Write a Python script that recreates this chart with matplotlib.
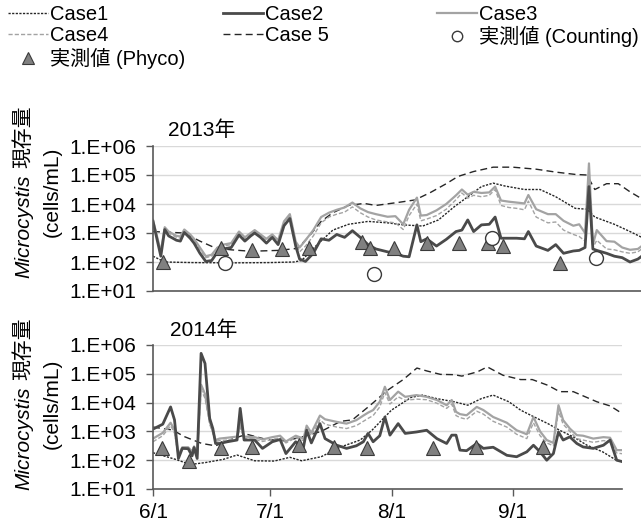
import numpy as np
import matplotlib
matplotlib.use('Agg')
import matplotlib.pyplot as plt
from matplotlib.lines import Line2D

plt.rcParams['font.family'] = ['Liberation Sans', 'Noto Sans CJK JP']
FS = 15
FS_LEG = 14.5

# days counted from 6/1, values are log10(cells/mL)
month_days = [0, 30, 61, 92]
month_labels = ['6/1', '7/1', '8/1', '9/1']
ytick_labels = ['1.E+01', '1.E+02', '1.E+03', '1.E+04', '1.E+05', '1.E+06']

# ---- 2013 ----
d13 = [0, 2, 3, 4, 6, 7, 8, 9.5, 10.5, 12, 13.5, 15, 16.5, 18, 20, 22, 23.5, 25, 26, 27.5,
       29, 30.5, 32, 33.5, 35, 36.5, 37.5, 39, 41, 43, 45, 47, 49, 51, 53, 55, 57, 60, 62, 64,
       65.5, 67.5, 68.5, 70, 72.5, 75, 77.5, 79, 80.5, 82, 84, 86, 87.5, 89, 91, 93, 95, 96, 98, 101,
       103, 105, 107.5, 109, 110.5, 111.5, 112.5, 113.5, 116, 118, 120, 122, 124, 125]
case2_13 = [3.4, 2.2, 3.12, 2.9, 2.75, 2.72, 3.02, 2.82, 2.65, 2.3,
            2.02, 2.05, 2.35, 2.45, 2.5, 2.93, 2.72, 2.9, 3.0, 2.85,
            2.65, 2.85, 2.6, 3.25, 3.5, 2.55, 2.1, 2.02, 2.3, 2.8,
            2.75, 2.95, 2.85, 3.08, 2.85, 2.6, 2.45, 2.35, 2.3, 2.2,
            2.18, 3.28, 2.7, 2.8, 2.55, 2.78, 3.05, 3.1, 3.45, 3.05,
            3.28, 3.3, 3.55, 2.82, 2.82, 2.82, 2.8, 3.05, 2.55, 2.4,
            2.6, 2.3, 2.38, 2.4, 2.5, 4.6, 2.45, 2.4, 2.3, 2.2,
            2.15, 2.0, 2.1, 2.2]
case3_13 = [3.45, 2.35, 3.2, 3.05, 2.9, 2.88, 3.12, 2.95, 2.8, 2.5,
            2.2, 2.25, 2.5, 2.6, 2.65, 3.05, 2.85, 3.0, 3.1, 2.95,
            2.8, 2.95, 2.75, 3.4, 3.65, 2.7, 2.5, 2.75, 3.1, 3.55,
            3.7, 3.8, 3.88, 4.05, 3.85, 3.72, 3.65, 3.56, 3.58, 3.3,
            3.8, 4.22, 3.6, 3.62, 3.78, 4.0, 4.3, 4.5, 4.32, 4.42,
            4.38, 4.4, 4.6, 4.12, 4.08, 4.05, 4.02, 4.31, 3.82, 3.65,
            3.65, 3.42, 3.25, 3.3, 3.0, 5.4, 2.6, 3.1, 2.72, 2.7,
            2.5, 2.42, 2.45, 2.55]
case4_13 = [3.4, 2.3, 3.15, 3.0, 2.85, 2.82, 3.07, 2.9, 2.74, 2.43,
            2.15, 2.2, 2.45, 2.55, 2.6, 3.0, 2.8, 2.95, 3.05, 2.9,
            2.74, 2.9, 2.7, 3.35, 3.6, 2.62, 2.35, 2.55, 2.9, 3.35,
            3.55, 3.65, 3.72, 3.9, 3.7, 3.55, 3.45, 3.38, 3.35, 3.12,
            3.6, 4.0, 3.42, 3.48, 3.6, 3.82, 4.15, 4.38, 4.2, 4.3,
            4.25, 4.3, 4.5, 3.95, 3.88, 3.85, 3.8, 4.1, 3.55, 3.35,
            3.38, 3.1, 2.95, 2.88, 2.72, 5.0, 2.5, 2.75, 2.45, 2.42,
            2.35, 2.3, 2.35, 2.45]
case1_13_day = [0, 3, 10, 20, 30, 36, 38, 42, 46, 50, 55, 60, 64, 69, 73, 77, 80, 84, 87, 90,
                95, 99, 103, 108, 111, 113, 118, 122, 125]
case1_13 = [2.2, 2.0, 1.98, 1.97, 1.98, 2.0, 2.05, 2.6, 3.1, 3.3, 3.4, 3.35, 3.28, 3.24, 3.45,
            3.9, 4.2, 4.6, 4.72, 4.62, 4.5, 4.5, 4.25, 3.85, 3.82, 3.55, 3.3, 3.05, 2.85]
case5_13_day = [0, 8, 12, 16, 20, 25, 32, 37, 40, 43, 46, 50, 54, 57, 63, 67, 71, 75, 78, 82,
                87, 92, 98, 103, 108, 111, 113, 116, 119, 122, 125]
case5_13 = [3.05, 3.0, 2.72, 2.48, 2.42, 2.37, 2.4, 2.47, 2.9, 3.4, 3.7, 3.95, 4.02, 3.95, 4.06,
            4.14, 4.4, 4.7, 4.95, 5.12, 5.27, 5.27, 5.2, 5.1, 5.02, 5.0, 4.5, 4.7, 4.7, 4.42, 4.18]
phyco_13_day = [2.6, 17.3, 25.4, 32.9, 39.8, 53.4, 55.5, 61.7, 70.0, 78.3, 85.7, 89.6, 104.2]
phyco_13 = [2.0, 2.47, 2.41, 2.44, 2.47, 2.68, 2.5, 2.5, 2.64, 2.67, 2.66, 2.56, 1.98]
count_13_day = [18.4, 56.6, 86.6, 113.3]
count_13 = [1.98, 1.58, 2.83, 2.15]

# ---- 2014 ----
d14 = [0, 2.5, 4.5, 5.5, 6.5, 7.5, 9, 10, 10.5, 11.3, 12.3, 13.3, 14.5, 15.3, 16, 17, 19, 21.5, 22.3, 23.3,
       26, 28, 30.5, 32.5, 34, 36.5, 38.5, 39.3, 40.5, 42.7, 44, 47, 49.5, 52, 53.8, 55, 56.3, 58, 59.3, 60.6,
       62.7, 64.5, 67.4, 70, 72.6, 75.1, 76.4, 77.5, 78.5, 80.2, 82.8, 84.5, 87, 90.5, 93, 95.6, 97.3, 99, 100.7, 102.4,
       103.7, 104.9, 106.6, 108.4, 110, 112.6, 115.2, 116.9, 118.6, 120.3]
case2_14 = [3.08, 3.25, 3.85, 3.4, 2.06, 2.41, 2.4, 2.15, 2.44, 2.06,
            5.71, 5.36, 3.45, 3.1, 2.58, 2.58, 2.64, 2.7, 3.8, 2.7,
            2.7, 2.41, 2.64, 2.72, 2.23, 2.64, 2.46, 3.04, 2.6, 3.27,
            2.75, 2.52, 2.41, 2.5, 2.64, 2.93, 2.64, 2.85, 3.5, 2.87,
            3.27, 2.93, 2.98, 3.04, 2.75, 2.58, 2.87, 2.87, 2.35, 2.33,
            2.58, 2.41, 2.45, 2.17, 2.12, 2.29, 2.52, 2.29, 2.0, 2.23,
            2.98, 2.7, 2.81, 2.58, 2.46, 2.41, 2.52, 2.7, 2.0, 1.94]
case3_14 = [2.75, 2.95, 3.3, 3.05, 2.2, 2.45, 2.45, 2.3, 2.48, 2.2,
            4.62, 4.3, 3.35, 3.0, 2.7, 2.75, 2.78, 2.82, 3.3, 2.82,
            2.8, 2.72, 2.8, 2.85, 2.65, 2.85, 2.75, 3.2, 2.95, 3.55,
            3.42, 3.33, 3.27, 3.39, 3.55, 3.65, 3.74, 4.03, 4.55, 4.09,
            4.38, 4.2, 4.26, 4.2, 4.09, 3.91, 4.09, 3.68, 3.6, 3.56,
            3.85, 3.74, 3.5, 3.3, 3.04, 2.9, 3.5, 3.0, 2.7, 2.6,
            3.91, 3.39, 3.1, 2.87, 2.85, 2.75, 2.8, 2.78, 2.35, 2.35]
case4_14 = [2.64, 2.85, 3.2, 2.95, 2.15, 2.4, 2.4, 2.25, 2.45, 2.15,
            4.45, 4.15, 3.25, 2.95, 2.65, 2.68, 2.7, 2.75, 3.15, 2.75,
            2.72, 2.65, 2.72, 2.78, 2.6, 2.78, 2.68, 3.1, 2.85, 3.4,
            3.25, 3.15, 3.1, 3.2, 3.35, 3.45, 3.55, 3.85, 4.35, 3.95,
            4.2, 4.08, 4.12, 4.1, 3.98, 3.8, 3.95, 3.55, 3.48, 3.42,
            3.7, 3.6, 3.35, 3.15, 2.9, 2.75, 3.3, 2.85, 2.6, 2.5,
            3.7, 3.25, 3.0, 2.75, 2.7, 2.62, 2.68, 2.65, 2.25, 2.22]
case1_14_day = [0, 6, 9.5, 13.5, 18, 21.5, 26, 31, 35, 38, 43, 48, 53, 56, 61, 66, 69, 72.5, 77, 80.5,
                84, 87, 91, 94, 97.5, 101, 104, 107.5, 111, 115, 118.5, 120]
case1_14 = [2.26, 2.02, 1.85, 1.92, 2.03, 2.18, 1.98, 1.97, 2.1, 1.98, 2.12, 2.46, 2.7, 3.04, 3.74,
            4.18, 4.26, 4.14, 4.03, 3.91, 4.14, 4.26, 4.03, 3.74, 3.5, 3.27, 3.04, 2.81, 2.52, 2.29,
            2.0, 1.95]
case5_14_day = [0, 5, 8, 12.5, 16, 20.5, 24, 29, 34, 39, 43, 48, 51, 55.5, 60, 64, 67.5, 70, 73.5, 77,
                79, 83, 85.5, 89.5, 94, 97, 101, 104, 107.5, 113.5, 117, 120]
case5_14 = [3.15, 3.05, 2.82, 2.58, 2.5, 2.75, 2.9, 2.72, 2.67, 2.84, 3.0, 3.35, 3.4, 3.9, 4.43,
            4.8, 5.2, 5.1, 4.98, 4.97, 4.92, 5.07, 5.24, 4.95, 4.8, 4.8, 4.6, 4.38, 4.38, 4.03,
            3.88, 3.62]
phyco_14_day = [2.2, 9.3, 17.3, 25.4, 37.4, 46.4, 54.7, 71.7, 82.6, 99.7]
phyco_14 = [2.44, 1.98, 2.44, 2.45, 2.52, 2.46, 2.44, 2.43, 2.46, 2.46]

# ---- styles ----
st_case1 = dict(color='#262626', lw=1.0, ls=(0, (1.6, 1.0)))
st_case2 = dict(color='#4a4a4a', lw=2.0, ls='-')
st_case3 = dict(color='#a3a3a3', lw=1.6, ls='-')
st_case4 = dict(color='#a3a3a3', lw=1.0, ls=(0, (3, 1.5)))
st_case5 = dict(color='#262626', lw=1.0, ls=(0, (5, 3)))
st_phyco = dict(ls='none', marker='^', ms=10, mfc='#808080', mec='#3a3a3a', mew=0.8)
st_count = dict(ls='none', marker='o', ms=10, mfc='white', mec='#3a3a3a', mew=1.0)

W, H = 641, 524
PX_DAY = 3.91
fig = plt.figure(figsize=(W / 100, H / 100), dpi=100)


def box(top, bottom, ndays, left=153):
    return [left / W, 1 - bottom / H, ndays * PX_DAY / W, (bottom - top) / H]


def lg(v):
    return 10 ** np.asarray(v, dtype=float)


def style_axes(ax, ndays, show_x):
    ax.set_yscale('log')
    ax.set_ylim(10, 1e6)
    ax.set_xlim(0, ndays)
    ax.set_yticks([1e1, 1e2, 1e3, 1e4, 1e5, 1e6])
    ax.set_yticklabels(ytick_labels)
    ax.minorticks_off()
    ax.yaxis.grid(True, color='#d9d9d9', lw=1.0)
    ax.set_axisbelow(True)
    for s in ['top', 'right']:
        ax.spines[s].set_visible(False)
    for s in ['left', 'bottom']:
        ax.spines[s].set_color('#595959')
        ax.spines[s].set_linewidth(1.2)
    ax.tick_params(axis='y', direction='out', length=5, width=1, color='#595959',
                   labelsize=FS, pad=7)
    if show_x:
        ax.set_xticks(month_days)
        ax.set_xticklabels(month_labels)
        ax.tick_params(axis='x', direction='out', length=5, width=1, color='#595959',
                       labelsize=FS, pad=5)
    else:
        ax.set_xticks([])


ax1 = fig.add_axes(box(146, 291, 130))
ax1.plot(case5_13_day, lg(case5_13), **st_case5)
ax1.plot(case1_13_day, lg(case1_13), **st_case1)
ax1.plot(d13, lg(case4_13), **st_case4)
ax1.plot(d13, lg(case3_13), **st_case3)
ax1.plot(d13, lg(case2_13), **st_case2)
ax1.plot(phyco_13_day, lg(phyco_13), **st_phyco)
ax1.plot(count_13_day, lg(count_13), **st_count)
style_axes(ax1, 130, False)

ax2 = fig.add_axes(box(345, 489, 120))
ax2.plot(case5_14_day, lg(case5_14), **st_case5)
ax2.plot(case1_14_day, lg(case1_14), **st_case1)
ax2.plot(d14, lg(case4_14), **st_case4)
ax2.plot(d14, lg(case3_14), **st_case3)
ax2.plot(d14, lg(case2_14), **st_case2)
ax2.plot(phyco_14_day, lg(phyco_14), **st_phyco)
style_axes(ax2, 120, True)

# panel titles
fig.text(168 / W, 1 - 130 / H, '2013年', ha='left', va='center', fontsize=FS)
fig.text(170 / W, 1 - 330 / H, '2014年', ha='left', va='center', fontsize=FS)

# y labels (two centred lines, italic genus name)
renderer = fig.canvas.get_renderer()


def ylabel(yc):
    y = 1 - yc / H
    fig.text(52 / W, y, '(cells/mL)', rotation=90, ha='center', va='center', fontsize=FS)
    ta = fig.text(24 / W, y, 'Microcystis', style='italic', rotation=90,
                  ha='center', va='bottom', fontsize=FS)
    tb = fig.text(24 / W, y, '現存量', rotation=90, ha='center', va='bottom', fontsize=FS)
    ha_ = ta.get_window_extent(renderer).height
    hb_ = tb.get_window_extent(renderer).height
    gap = 0.3 * FS * 100 / 72
    start = (H - yc) - (ha_ + gap + hb_) / 2
    ta.set_y(start / H)
    tb.set_y((start + ha_ + gap) / H)


ylabel(192)
ylabel(404)

# legend, one block per column
h_case1 = Line2D([], [], **st_case1)
h_case2 = Line2D([], [], **st_case2)
h_case3 = Line2D([], [], **st_case3)
h_case4 = Line2D([], [], **st_case4)
h_case5 = Line2D([], [], **st_case5)
h_phyco = Line2D([], [], **dict(st_phyco, ms=8.5))
h_count = Line2D([], [], **dict(st_count, ms=7.5))

cols = [
    (8, [h_case1, h_case4, h_phyco], ['Case1', 'Case4', '実測値 (Phyco)']),
    (223, [h_case2, h_case5], ['Case2', 'Case 5']),
    (437, [h_case3, h_count], ['Case3', '実測値 (Counting)']),
]
for x0, hs, ls in cols:
    fig.legend(hs, ls, loc='upper left', bbox_to_anchor=(x0 / W, 1 - 5 / H),
               frameon=False, fontsize=FS_LEG, handlelength=2.0, handletextpad=0.1,
               labelspacing=0.12, borderpad=0, borderaxespad=0)

fig.savefig('out.png', dpi=100, facecolor='white')
